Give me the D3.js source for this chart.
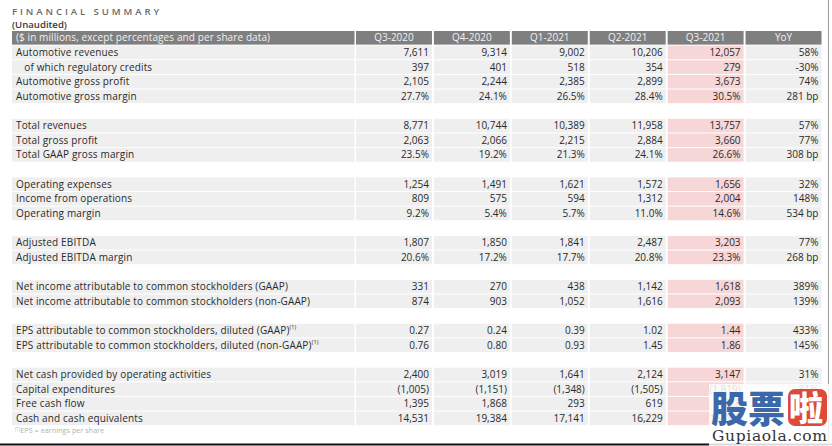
<!DOCTYPE html>
<html><head><meta charset="utf-8">
<script src="https://cdn.jsdelivr.net/npm/d3@7"></script>
<style>
body{margin:0;background:#fff;}
svg{display:block;font-family:"Open Sans","Noto Sans",sans-serif;}
</style></head><body>
<svg id="c" width="832" height="446"></svg>
<script>
const columns = ["Q3-2020","Q4-2020","Q1-2021","Q2-2021","Q3-2021","YoY"];
const headerLabel = "($ in millions, except percentages and per share data)";
const labels = ["Automotive revenues","  of which regulatory credits","Automotive gross profit","Automotive gross margin",null,
 "Total revenues","Total gross profit","Total GAAP gross margin",null,
 "Operating expenses","Income from operations","Operating margin",null,
 "Adjusted EBITDA","Adjusted EBITDA margin",null,
 "Net income attributable to common stockholders (GAAP)","Net income attributable to common stockholders (non-GAAP)",null,
 "EPS attributable to common stockholders, diluted (GAAP)|(1)","EPS attributable to common stockholders, diluted (non-GAAP)|(1)",null,
 "Net cash provided by operating activities","Capital expenditures","Free cash flow","Cash and cash equivalents"];
const q3_2020 = ["7,611","397","2,105","27.7%",null,"8,771","2,063","23.5%",null,"1,254","809","9.2%",null,"1,807","20.6%",null,"331","874",null,"0.27","0.76",null,"2,400","(1,005)","1,395","14,531"];
const q4_2020 = ["9,314","401","2,244","24.1%",null,"10,744","2,066","19.2%",null,"1,491","575","5.4%",null,"1,850","17.2%",null,"270","903",null,"0.24","0.80",null,"3,019","(1,151)","1,868","19,384"];
const q1_2021 = ["9,002","518","2,385","26.5%",null,"10,389","2,215","21.3%",null,"1,621","594","5.7%",null,"1,841","17.7%",null,"438","1,052",null,"0.39","0.93",null,"1,641","(1,348)","293","17,141"];
const q2_2021 = ["10,206","354","2,899","28.4%",null,"11,958","2,884","24.1%",null,"1,572","1,312","11.0%",null,"2,487","20.8%",null,"1,142","1,616",null,"1.02","1.45",null,"2,124","(1,505)","619","16,229"];
const q3_2021 = ["12,057","279","3,673","30.5%",null,"13,757","3,660","26.6%",null,"1,656","2,004","14.6%",null,"3,203","23.3%",null,"1,618","2,093",null,"1.44","1.86",null,"3,147","(1,819)","1,328","16,065"];
const yoy = ["58%","-30%","74%","281 bp",null,"57%","77%","308 bp",null,"32%","148%","534 bp",null,"77%","268 bp",null,"389%","139%",null,"433%","145%",null,"31%","81%","-5%","11%"];
const footnoteMark = "(1)";
const footnote = "EPS = earnings per share";

const series = [q3_2020,q4_2020,q1_2021,q2_2021,q3_2021,yoy];
const svg = d3.select("#c");

const nRows = labels.length + 1; // header + rows
const y = d3.scaleBand().domain(d3.range(nRows)).range([31, 31 + 14.6*nRows]).paddingInner(0.07).paddingOuter(0);
const x = d3.scaleBand().domain(columns).range([356, 821.5]).paddingInner(0.025).paddingOuter(0);
const labelX0 = 12, labelX1 = 354.5;

// title
svg.append("text").attr("x",12).attr("y",15).attr("font-size",9.6).attr("fill","#6b6b6b")
  .attr("letter-spacing","2.9px").attr("font-weight",600).text("FINANCIAL SUMMARY");
svg.append("text").attr("x",12).attr("y",28).attr("font-size",9.6).attr("fill","#3a3a3a")
  .attr("font-weight",600).text("(Unaudited)");

// header
svg.append("rect").attr("x",labelX0).attr("y",y(0)).attr("width",labelX1-labelX0).attr("height",y.bandwidth()).attr("fill","#7f7f7f");
svg.append("text").attr("x",labelX0+4).attr("y",y(0)+y.bandwidth()/2).attr("dy","0.35em")
  .attr("font-size",10).attr("letter-spacing","0.1px").attr("fill","#f2f2f2").text(headerLabel);
columns.forEach(c=>{
  svg.append("rect").attr("x",x(c)).attr("y",y(0)).attr("width",x.bandwidth()).attr("height",y.bandwidth()).attr("fill","#7f7f7f");
  svg.append("text").attr("x",x(c)+x.bandwidth()/2).attr("y",y(0)+y.bandwidth()/2).attr("dy","0.35em")
    .attr("text-anchor","middle").attr("font-size",10).attr("fill","#f2f2f2").text(c);
});

// body rows
labels.forEach((lab,i)=>{
  if(lab===null) return;
  const r = i+1, yy = y(r), h = y.bandwidth();
  svg.append("rect").attr("x",labelX0).attr("y",yy).attr("width",labelX1-labelX0).attr("height",h).attr("fill","#efefef");
  const parts = lab.split("|");
  const t = svg.append("text").attr("x",labelX0+4).attr("y",yy+h/2).attr("dy","0.35em")
    .attr("font-size",10).attr("letter-spacing","0.15px").attr("fill","#2a2a2a");
  t.append("tspan").text(parts[0].replace(/^  /,"\u00a0\u00a0\u00a0"));
  if(parts[1]) t.append("tspan").attr("font-size",5.5).attr("dy","-0.9em").text(parts[1]);
  columns.forEach((c,j)=>{
    svg.append("rect").attr("x",x(c)).attr("y",yy).attr("width",x.bandwidth()).attr("height",h)
      .attr("fill", c==="Q3-2021" ? "#f6d6d6" : "#efefef");
    svg.append("text").attr("x",x(c)+x.bandwidth()-3).attr("y",yy+h/2).attr("dy","0.35em")
      .attr("text-anchor","end").attr("font-size",10).attr("fill","#2a2a2a").text(series[j][i]);
  });
});

// footnote
const fy = y(nRows-1)+y.bandwidth()+8;
const ft = svg.append("text").attr("x",labelX0+3).attr("y",fy).attr("font-size",7.3).attr("fill","#b3b3b3");
ft.append("tspan").attr("font-size",4.5).attr("dy","-2.5").text(footnoteMark);
ft.append("tspan").attr("dy","2.5").text(footnote);

// frame lines
svg.append("line").attr("x1",0).attr("x2",832).attr("y1",444.5).attr("y2",444.5).attr("stroke","#111").attr("stroke-width",2);
svg.append("line").attr("x1",828.5).attr("x2",828.5).attr("y1",0).attr("y2",446).attr("stroke","#999").attr("stroke-width",1);

// watermark
const wm = svg.append("g");
wm.append("rect").attr("x",709).attr("y",384).attr("width",123).attr("height",62).attr("fill","#fff").attr("opacity",0.85);
wm.append("text").attr("x",711).attr("y",423).attr("font-size",37).attr("font-weight",900)
  .attr("font-family","Noto Sans CJK SC").attr("fill","#3c67a8").text("股票");
wm.append("rect").attr("x",788).attr("y",389).attr("width",39).attr("height",37).attr("rx",7).attr("fill","#dd4a3a");
wm.append("text").attr("x",789).attr("y",421).attr("font-size",34).attr("font-weight",900)
  .attr("font-family","Noto Sans CJK SC").attr("fill","#fff").text("啦");
wm.append("text").attr("x",712).attr("y",441).attr("font-size",15.5).attr("font-family","DejaVu Serif")
  .attr("fill","#333").attr("textLength",115).text("Gupiaola.com");
</script>
</body></html>
